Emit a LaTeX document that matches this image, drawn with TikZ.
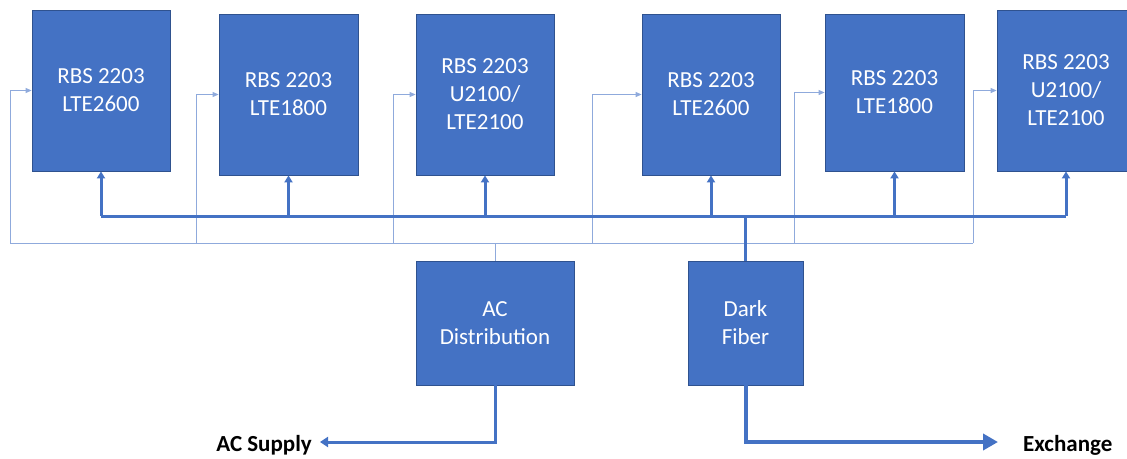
\documentclass[tikz,border=0pt]{standalone}
\usepackage{fontspec}
\setmainfont{Carlito}
\usetikzlibrary{arrows.meta}
\definecolor{boxblue}{HTML}{4472C4}
\definecolor{boxedge}{HTML}{2F528F}
\definecolor{thinblue}{HTML}{8FAADC}
\tikzset{
  rbs/.style={rectangle, fill=boxblue, draw=boxedge, line width=0.8pt, text=white,
    align=center, inner sep=0pt, font=\fontsize{23}{28}\selectfont},
  pw/.style={draw=thinblue, line width=1pt},
  pwarrow/.style={pw, -{Triangle[length=6pt,width=5pt]}},
  bus/.style={draw=boxblue, line width=3pt},
  busarrow/.style={bus, -{Triangle[length=7pt,width=8pt]}},
  acline/.style={draw=boxblue, line width=3pt, -{Triangle[length=8pt,width=10pt]}},
  exline/.style={draw=boxblue, line width=4pt, -{Triangle[length=15pt,width=16pt]}},
  lab/.style={inner sep=0pt, font=\fontsize{23}{28}\selectfont\bfseries, text=black}
}
\begin{document}
\begin{tikzpicture}[x=1pt,y=-1pt]
\useasboundingbox (0,0) rectangle (1127,458);
% RBS boxes
\node[rbs, minimum width=138pt, minimum height=161pt] (b1) at (101,90.5) {RBS 2203\\LTE2600};
\node[rbs, minimum width=139pt, minimum height=161pt] (b2) at (288.5,94.5) {RBS 2203\\LTE1800};
\node[rbs, minimum width=138pt, minimum height=161pt] (b3) at (485,94.5) {RBS 2203\\U2100/\\LTE2100};
\node[rbs, minimum width=138pt, minimum height=161pt] (b4) at (711,94.5) {RBS 2203\\LTE2600};
\node[rbs, minimum width=139pt, minimum height=157pt] (b5) at (894.5,92.5) {RBS 2203\\LTE1800};
\node[rbs, minimum width=138pt, minimum height=161pt] (b6) at (1066,90.5) {RBS 2203\\U2100/\\LTE2100};
% lower boxes
\node[rbs, minimum width=158pt, minimum height=124pt] (ac) at (495,323) {AC\\Distribution};
\node[rbs, minimum width=115pt, minimum height=124pt] (df) at (745.5,323) {Dark\\Fiber};
% power distribution (thin)
\coordinate (p1) at (10,243);
\coordinate (p2) at (196,243);
\coordinate (p3) at (393,243);
\coordinate (p4) at (592,243);
\coordinate (p5) at (794,243);
\coordinate (p6) at (973,243);
\draw[pw] (p1) -- (p6);
\draw[pw] (ac.north) -- (ac.north |- p1);
\draw[pwarrow] (p1) |- (b1.west);
\draw[pwarrow] (p2) |- (b2.west);
\draw[pwarrow] (p3) |- (b3.west);
\draw[pwarrow] (p4) |- (b4.west);
\draw[pwarrow] (p5) |- (b5.west);
\draw[pwarrow] (p6) |- (b6.west);
% fiber bus (thick)
\coordinate (bl) at (101,216);
\draw[bus] (b1.south |- bl) -- (b6.south |- bl);
\draw[bus] (df.north) -- (df.north |- bl);
\draw[busarrow] (b1.south |- bl) -- (b1.south);
\draw[busarrow] (b2.south |- bl) -- (b2.south);
\draw[busarrow] (b3.south |- bl) -- (b3.south);
\draw[busarrow] (b4.south |- bl) -- (b4.south);
\draw[busarrow] (b5.south |- bl) -- (b5.south);
\draw[busarrow] (b6.south |- bl) -- (b6.south);
% outputs
\coordinate (acend) at (320,442);
\coordinate (exend) at (998,442);
\node[lab, anchor=base east] (acs) at (312,451) {AC Supply};
\node[lab, anchor=base west] (exc) at (1023,451) {Exchange};
\draw[acline] (ac.south) |- (acend);
\draw[exline] (df.south) |- (exend);
\end{tikzpicture}
\end{document}
